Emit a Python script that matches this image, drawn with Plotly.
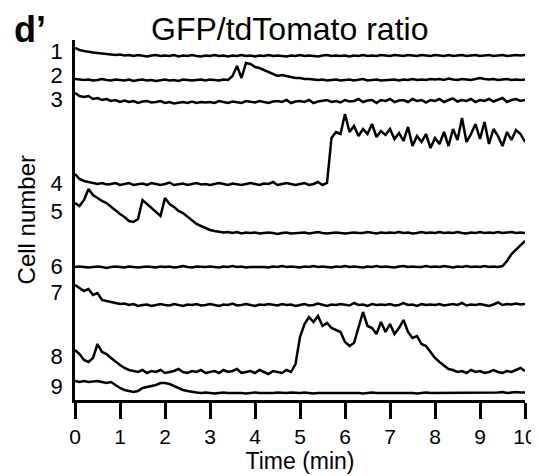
import numpy as np
import plotly.graph_objects as go

# time axis (min), sampled every 0.1 min
time_min = np.round(np.arange(0, 10.01, 0.1), 1)

cell_labels = ["1", "2", "3", "4", "5", "6", "7", "8", "9"]

# GFP/tdTomato ratio traces (a.u., change from each cell's resting level)
cell1 = [8, 6, 5, 4, 3.5, 3, 2.5, 2, 1.5, 1,
         1.5, 0.5, 1, 0, 1, 0.5, -0.5, 0.5, 1, 0,
         0.5, 0, 1, -0.5, 0.5, 0, 1, 0, -0.5, 0.5,
         0, 1, 0, 0.5, -0.5, 0.5, 0, 1, 0, 0.5,
         -0.5, 0.5, 0, 1, 0, 0.5, 0, -0.5, 0.5, 0,
         1, 0, 0.5, 0, -0.5, 0.5, 1, 0, 0.5, 0,
         0.5, -0.5, 0.5, 0, 1, 0, 0.5, 0, 1, 0.5,
         0, 1, 0.5, 0, 1, 0.5, 0, 1, 0.5, 0,
         1, 0.5, 0, 1, 0, 0.5, 1, 0, 0.5, 1,
         0, 0.5, 1, 0, 0.5, 1, 0, 0.5, 1, 0.5,
         1]
cell2 = [1, 0.5, 0, 0.5, -0.5, 0, 1, 0, -0.5, 0.5,
         0, -0.5, 0.5, -1, 0, 0.5, -0.5, 0, -1, 0,
         0.5, -0.5, 0, -1, 0.5, 0, -0.5, 0, 0.5, -0.5,
         0.5, 0, -0.5, 0.5, 0, 4, 14, 2, 17, 16,
         13, 12, 10, 8, 6, 4, 5, 4, 3, 2,
         2, 1, 1, 0.5, 0, 0.5, -0.5, 0, 0.5, -0.5,
         0, 0.5, -0.5, 0, 1, -0.5, 0, 0.5, -0.5, 0,
         0, 0.5, -0.5, 0.5, 0, 1, 0, 0.5, 0, 1,
         0.5, 1, 0, 1.5, 0.5, 0, 1, 0.5, 0, 1,
         2, 1, 0.5, 1, 0, 0.5, 1, 0, 0.5, 0,
         0.5]
cell3 = [9, 6, 5, 6, 3, 4, 2, 3, 1, 2,
         0, 1.5, 0, 1, -1, 0.5, 1, -0.5, 0, 1,
         -1, 0, -1.5, -0.5, 0, -1, 0.5, -1, 0, -0.5,
         0, -1, 1, 0, -1, 0.5, 0, -1, 1, 0,
         -0.5, 1, 0, -1, 0.5, 1, 0, 2, -1, 0.5,
         1, 0, 2, -1, 0.5, 1, 2, 0, 1, -0.5,
         2, 0.5, 1, 3, 0, 1.5, 2, -1, 2, 1,
         3, 0, 1.5, 2, 0, 3, 1, 2, -0.5, 2,
         1, 3, 0, 2, 3.5, 0.5, 2, 1, 3, 0,
         2, 1, 3, 0.5, 2, 4, 0, 2, 3, 1,
         2]
cell4 = [10, 5, 3, 2, 1, 0, 1, -0.5, 0, 1,
         -1, 0, 1, -1, 0, 0.5, -1, 1, 0, -1,
         0, 1.5, -1, 0, 0.5, -1, 0, 1, -0.5, 0,
         -1, 0, 1, 0, -1, 0.5, 0, -1, 0, 1,
         0, -1, 0.5, 0, 2, -1, 0, 1, 0, -1,
         0, 1, -1, 0, 2, -1, 1, 46, 52, 50,
         70, 52, 58, 48, 55, 50, 60, 47, 53, 49,
         55, 45, 51, 43, 57, 38, 48, 42, 50, 36,
         46, 40, 52, 38, 55, 44, 66, 42, 50, 60,
         45, 62, 40, 55, 48, 38, 52, 44, 54, 50,
         42]
cell5 = [30, 27, 33, 44, 38, 35, 32, 30, 26, 23,
         19, 16, 12, 11, 14, 33, 29, 26, 22, 17,
         35, 29, 26, 22, 20, 16, 12, 9, 7, 5,
         3, 2, 1.5, 0.5, 1, 0, 1, -0.5, 0.5, 0,
         0.5, -0.5, 0, 0.5, 0, -1, 0, 0.5, -0.5, 0,
         0, 0.5, -0.5, 0, 1, 0, -0.5, 0, 0.5, 0,
         -0.5, 0, 0.5, 0, 0, 1, 0, -0.5, 0.5, 0,
         0.5, 0, 1, 0, 0.5, -0.5, 0, 1, 0, 0.5,
         0, 1, 0, 0.5, 0, 1, 0, -0.5, 0.5, 0,
         1, 0, 0.5, 0, 1, 0, 0.5, 1, 0, 0.5,
         0]
cell6 = [0, 0.5, 0, -0.5, 0, 0.5, 0, -1, 0, 0.5,
         0, -0.5, 0.5, 0, -0.5, 0, 0.5, 0, -0.5, 0.5,
         0, 0.5, -0.5, 0, 1, 0, -0.5, 0.5, 0, 0,
         0.5, 0, -0.5, 0.5, 0, 1, 0, 0.5, -0.5, 0,
         0, 0.5, 0, -0.5, 0.5, 0, 1, 0, 0.5, 0,
         -0.5, 0.5, 0, 1, 0, 0.5, 0, -0.5, 0.5, 0,
         1, 0, 0.5, 0, -0.5, 0.5, 0, 1, 0, 0.5,
         0, -0.5, 0.5, 1, 0, 0.5, 0, 0, 1, 0,
         0.5, 0, 1, 0, -0.5, 0.5, 0, 1, 0, 0.5,
         0, 1, 0, 0.5, 0, 1, 6, 13, 17, 21,
         26]
cell7 = [20, 17, 14, 16, 10, 12, 5, 4, 3, 2,
         1, 1.5, 0, 1, -1, 0, 0.5, -1, 0, 1,
         0, -0.5, 1, 0, -1, 0.5, 0, 1, -0.5, 0,
         1, 0, -1, 0.5, 0, 1.5, -0.5, 0, 1, 0,
         -1, 0.5, 0, 1, 0, -0.5, 1, 0, 0.5, -1,
         0, 1, -0.5, 0, 1.5, 0, -1, 0.5, 0, 1,
         0, -0.5, 2, 0, 0.5, -1, 1, 0, 0.5, 0,
         1, -0.5, 0, 2, 0, 0.5, -1, 1, 0, 0.5,
         0, 1, -0.5, 0, 1, 0, 2, -0.5, 0.5, 0,
         1, 0, -1, 0.5, 2.5, 0, 1, 0.5, 1.5, 0.5,
         1]
cell8 = [22, 18, 12, 10, 14, 28, 20, 18, 14, 10,
         7, 4, 2, 1, 0, 2, -1, 1, 0, 2,
         -1, 0, 1, 3, 0, -1, 1, 0, 2, -1,
         0, 1, -1, 2, 0, 1, 3, -1, 0, 1,
         -1, 2, 0, -2, 1, 0, -1, 2, 0, 8,
         35, 48, 55, 50, 56, 46, 49, 44, 42, 40,
         30, 26, 29, 45, 60, 46, 44, 38, 50, 40,
         48, 38, 44, 52, 40, 34, 36, 28, 26, 20,
         14, 10, 6, 3, 2, 0, 1, -1, 2, 0,
         1, -1, 0, 2, 0, -1, 1, 0, 2, 4,
         1]
cell9 = [12, 11, 12, 11, 11.5, 12, 11, 10, 11, 8,
         5, 3, 2, 1, 2, 5, 6, 7, 8, 10,
         10, 9, 7, 5, 3, 2, 1, 0.5, 0, 0.5,
         0, -0.5, 0, 0.5, 0, 0, 0.5, 0, -0.5, 0,
         0.5, 0, 0, -0.5, 0, 0.5, 0, 0, 0.5, 0,
         0, 0.5, 0, -0.5, 0, 0, 0.5, 0, 0, 0.5,
         0, 0, 0.5, 0, -0.5, 0, 0.5, 0, 0, 0.5,
         0, 0.5, 0, 0, 0.5, 0, -0.5, 0, 0.5, 0,
         0, 0.5, 0, 0.5, 0, 0, 0.5, 0, 0.5, 0,
         0.5, 0, 0.5, 0, 0.5, 1, 0, 0.5, 1, 0.5,
         0.5]

cells = [cell1, cell2, cell3, cell4, cell5, cell6, cell7, cell8, cell9]

# vertical stacking offset of each trace, and where its number sits
trace_offset = [344, 320, 298, 216, 167, 133, 95, 28, 7]
label_pos = [349, 325, 301, 217, 189, 134, 108, 44, 14]

FONT = "Liberation Sans, Arial, sans-serif"

fig = go.Figure()
for vals, off in zip(cells, trace_offset):
    fig.add_trace(go.Scatter(
        x=time_min, y=np.array(vals) + off,
        mode="lines", line=dict(color="black", width=2.5),
        showlegend=False, hoverinfo="skip"))

# page body adds an 8px margin, so the canvas is kept 8px smaller
fig.update_layout(
    width=531, height=468,
    margin=dict(l=67, r=14, t=32, b=76),
    paper_bgcolor="white", plot_bgcolor="white",
    font=dict(family=FONT, color="black", size=22),
    xaxis=dict(
        range=[0, 10], tickvals=list(range(11)),
        showline=True, linecolor="black", linewidth=2.5,
        ticks="outside", ticklen=16, tickwidth=2.5, tickcolor="black",
        showgrid=False, zeroline=False, automargin=False,
        tickfont=dict(size=21), ticklabeloverflow="allow",
        title=dict(text="Time (min)", font=dict(size=23), standoff=0),
    ),
    yaxis=dict(
        range=[0, 360], tickvals=label_pos, ticktext=cell_labels,
        showline=True, linecolor="black", linewidth=2.5,
        ticks="", showgrid=False, zeroline=False, automargin=False,
        tickfont=dict(size=22), ticklabelstandoff=5,
    ),
    annotations=[
        dict(text="GFP/tdTomato ratio", xref="paper", yref="paper",
             x=0.476, y=1.0, yanchor="middle", yshift=11, showarrow=False,
             font=dict(size=32)),
        dict(text="<b>d’</b>", xref="paper", yref="paper",
             x=-0.1, y=1.0, xanchor="center", yanchor="middle", yshift=11,
             showarrow=False, font=dict(size=36)),
        dict(text="Cell number", xref="paper", yref="paper",
             x=-0.108, y=0.5, textangle=-90, showarrow=False,
             xanchor="center", yanchor="middle", font=dict(size=24)),
    ],
)

fig.write_html("out.html")
